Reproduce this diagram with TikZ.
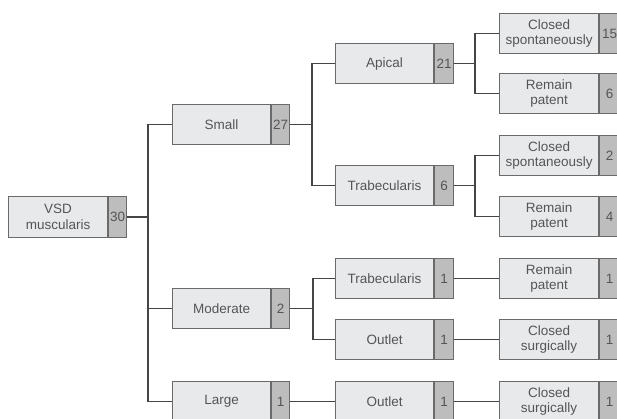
\documentclass[tikz,border=0pt]{standalone}
\usepackage{fontspec}
\setmainfont{Liberation Sans}
\definecolor{boxfill}{HTML}{E7E9EB}
\definecolor{cntfill}{HTML}{BDBDBD}
\definecolor{boxline}{HTML}{6A6A6A}
\definecolor{txt}{HTML}{555555}
\definecolor{conn}{HTML}{454545}
\begin{document}
\begin{tikzpicture}[x=1pt,y=1pt,
  lbl/.style={draw=boxline, fill=boxfill, line width=1.1pt, minimum height=40pt,
    inner sep=0pt, anchor=north west, text=txt, align=center,
    font=\fontsize{13.5}{15.5}\selectfont},
  cnt/.style={draw=boxline, fill=cntfill, line width=1.1pt, minimum height=40pt,
    minimum width=19pt, inner sep=0pt, anchor=west, text=txt,
    font=\fontsize{13.5}{15.5}\selectfont},
  link/.style={draw=conn, line width=1.4pt}]
\useasboundingbox (0,0) rectangle (617,418);
\clip (0,0) rectangle (617,418);
% column 1
\node[lbl, minimum width=99pt, minimum height=41pt] (vsd) at (8,222) {VSD\\muscularis};
\node[cnt, minimum width=18pt, minimum height=41pt] (vsdn) at (vsd.east) {30};
% column 2
\node[lbl, minimum width=98pt] (small) at (172,314) {Small};
\node[cnt, minimum width=18pt] (smalln) at (small.east) {27};
\node[lbl, minimum width=98pt] (moderate) at (172,130) {Moderate};
\node[cnt, minimum width=18pt] (moderaten) at (moderate.east) {2};
\node[lbl, minimum width=98pt] (large) at (172,37) {Large};
\node[cnt, minimum width=18pt] (largen) at (large.east) {1};
% column 3
\node[lbl, minimum width=98pt] (apical) at (335,375) {Apical};
\node[cnt] (apicaln) at (apical.east) {21};
\node[lbl, minimum width=98pt] (trabA) at (335,253) {Trabecularis};
\node[cnt] (trabAn) at (trabA.east) {6};
\node[lbl, minimum width=98pt] (trabB) at (335,160) {Trabecularis};
\node[cnt] (trabBn) at (trabB.east) {1};
\node[lbl, minimum width=98pt] (outA) at (335,99) {Outlet};
\node[cnt] (outAn) at (outA.east) {1};
\node[lbl, minimum width=98pt] (outB) at (335,37) {Outlet};
\node[cnt] (outBn) at (outB.east) {1};
% column 4
\node[lbl, minimum width=99pt] (csA) at (499,405) {Closed\\spontaneously};
\node[cnt, minimum width=20pt] (csAn) at (csA.east) {15};
\node[lbl, minimum width=99pt] (rpA) at (499,345) {Remain\\patent};
\node[cnt, minimum width=20pt] (rpAn) at (rpA.east) {6};
\node[lbl, minimum width=99pt] (csB) at (499,283) {Closed\\spontaneously};
\node[cnt, minimum width=20pt] (csBn) at (csB.east) {2};
\node[lbl, minimum width=99pt] (rpB) at (499,222) {Remain\\patent};
\node[cnt, minimum width=20pt] (rpBn) at (rpB.east) {4};
\node[lbl, minimum width=99pt] (rpC) at (499,160) {Remain\\patent};
\node[cnt, minimum width=20pt] (rpCn) at (rpC.east) {1};
\node[lbl, minimum width=99pt] (csC) at (499,99) {Closed\\surgically};
\node[cnt, minimum width=20pt] (csCn) at (csC.east) {1};
\node[lbl, minimum width=99pt] (csD) at (499,37) {Closed\\surgically};
\node[cnt, minimum width=20pt] (csDn) at (csD.east) {1};
% junctions
\coordinate (j1) at (148,0);
\coordinate (j2) at (312,0);
\coordinate (j3) at (313,0);
\coordinate (j4) at (475,0);
% connectors
\draw[link] (vsdn.east) -- (vsdn.east -| j1);
\draw[link] (small.west) -| (j1 |- large.west) -- (large.west);
\draw[link] (moderate.west) -- (moderate.west -| j1);
\draw[link] (smalln.east) -- (smalln.east -| j2);
\draw[link] (apical.west) -| (j2 |- trabA.west) -- (trabA.west);
\draw[link] (moderaten.east) -- (moderaten.east -| j3);
\draw[link] (trabB.west) -| (j3 |- outA.west) -- (outA.west);
\draw[link] (largen.east) -- (outB.west);
\draw[link] (apicaln.east) -- (apicaln.east -| j4);
\draw[link] (csA.west) -| (j4 |- rpA.west) -- (rpA.west);
\draw[link] (trabAn.east) -- (trabAn.east -| j4);
\draw[link] (csB.west) -| (j4 |- rpB.west) -- (rpB.west);
\draw[link] (trabBn.east) -- (rpC.west);
\draw[link] (outAn.east) -- (csC.west);
\draw[link] (outBn.east) -- (csD.west);
\end{tikzpicture}
\end{document}
